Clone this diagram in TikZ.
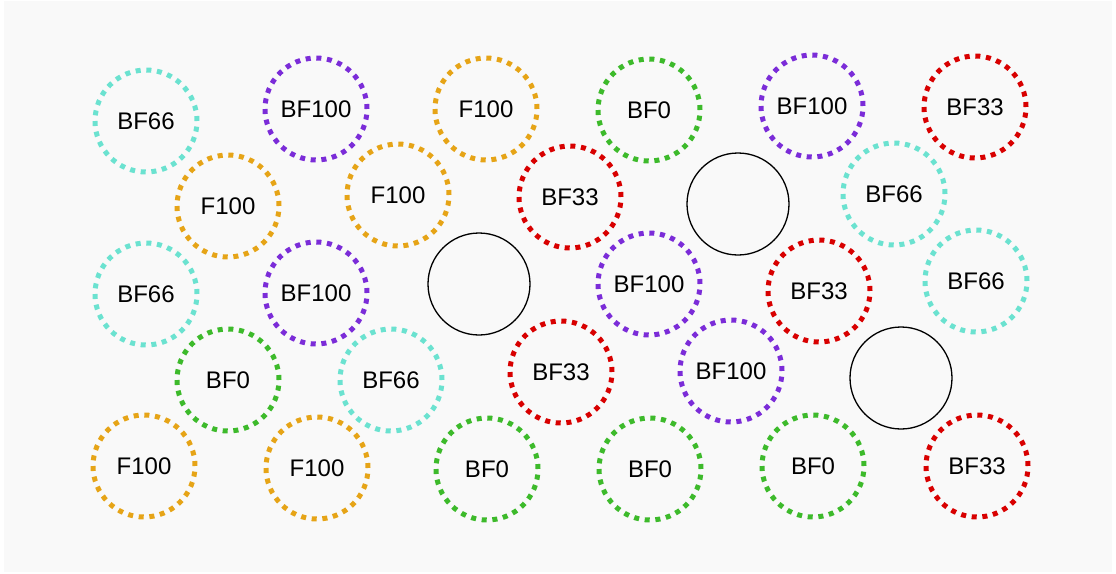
\documentclass[tikz,border=0pt]{standalone}
\usepackage{fontspec}
\setmainfont{Liberation Sans}
\definecolor{paper}{HTML}{F9F9F9}
\definecolor{bfcyan}{HTML}{6BE2D0}
\definecolor{bfpurple}{HTML}{7B2CD8}
\definecolor{forange}{HTML}{E6A417}
\definecolor{bfgreen}{HTML}{3DBA2B}
\definecolor{bfred}{HTML}{D80000}
\begin{document}
\begin{tikzpicture}[x=1pt,y=-1pt,
        ring/.style={circle,minimum size=102pt,inner sep=0pt,line width=5pt,
            dash pattern=on 5pt off 5.68pt,font=\fontsize{24}{28}\selectfont},
        hole/.style={circle,minimum size=102pt,inner sep=0pt,draw=black,line width=1.3pt}]
        \useasboundingbox (0,0) rectangle (1116,573);
        \fill[paper] (4,1) rectangle (1112,572);
        % dotted rings
        \foreach \x/\y/\t/\c [count=\i] in {
            146/121/BF66/bfcyan, 316/109/BF100/bfpurple, 486/109/F100/forange,
            649/110/BF0/bfgreen, 812/106/BF100/bfpurple, 975/107/BF33/bfred,
            228/206/F100/forange, 398/195/F100/forange, 570/197/BF33/bfred,
            894/194/BF66/bfcyan,
            146/294/BF66/bfcyan, 316/293/BF100/bfpurple, 649/284/BF100/bfpurple,
            819/291/BF33/bfred, 976/281/BF66/bfcyan,
            228/380/BF0/bfgreen, 391/380/BF66/bfcyan, 561/372/BF33/bfred,
            731/371/BF100/bfpurple,
            144/466/F100/forange, 317/468/F100/forange, 487/469/BF0/bfgreen,
            650/469/BF0/bfgreen, 813/466/BF0/bfgreen, 977/466/BF33/bfred}
            \node[ring,draw=\c] (r\i) at (\x,\y) {\t};
        % empty circles
        \node[hole] (h1) at (738,204) {};
        \node[hole] (h2) at (479,284) {};
        \node[hole] (h3) at (901,378) {};
    \end{tikzpicture}
\end{document}
